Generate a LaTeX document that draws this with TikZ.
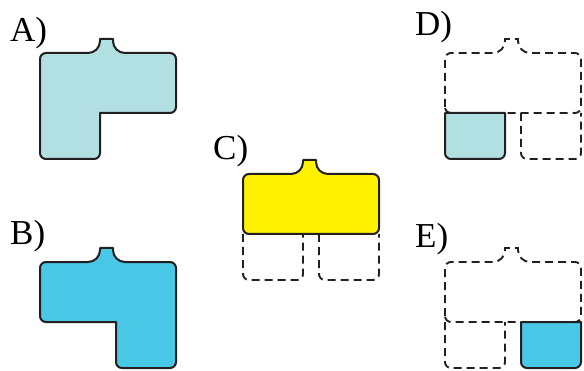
\documentclass[tikz,border=0pt]{standalone}
\usepackage{fontspec}
\setmainfont{Liberation Serif}
\usepackage{xcolor}
\usepackage{tikz}
\usetikzlibrary{positioning,calc}

\definecolor{ink}{HTML}{231F20}
\definecolor{paleblue}{HTML}{B2DFE1}
\definecolor{skyblue}{HTML}{48C7E7}
\definecolor{lemon}{HTML}{FFF100}

% top block outline with the knob, from (0,6) round to (136,54)
\newcommand{\knobtop}{(0,6) -- (0,54) arc[start angle=180,end angle=90,radius=6]
  -- (48,60) arc[start angle=-90,end angle=0,radius=12] -- (60,74) -- (73,74) -- (73,72)
  arc[start angle=180,end angle=270,radius=12] -- (130,60) arc[start angle=90,end angle=0,radius=6]}
% full top block
\newcommand{\blockpath}{\knobtop -- (136,6) arc[start angle=0,end angle=-90,radius=6]
  -- (6,0) arc[start angle=270,end angle=180,radius=6] -- cycle}
% open box hanging below the block, left edge at #1
\newcommand{\boxpath}[1]{(#1,0) -- (#1,-40) arc[start angle=180,end angle=270,radius=6]
  -- ($(#1,-46)+(54,0)$) arc[start angle=270,end angle=360,radius=6] -- ($(#1,0)+(60,0)$)}

\tikzset{
  piece/.style={draw=ink, line width=2pt, line join=round},
  ghost/.style={draw=ink, line width=1.9pt, dash pattern=on 8pt off 5pt},
  tag/.style={font=\fontsize{35}{40}\selectfont, anchor=base west, inner sep=0pt}
}

\begin{document}
\begin{tikzpicture}[x=1pt,y=1pt]
    \useasboundingbox (0,0) rectangle (584,370);

    % labels
    \node[tag] (labA) at (10,328) {A)};
    \node[tag] (labB) at (10,125) {B)};
    \node[tag] (labC) at (213,210) {C)};
    \node[tag] (labD) at (415,334) {D)};
    \node[tag] (labE) at (415,123) {E)};

    % A) block with the box on the left
    \begin{scope}[shift={(40,257)}]
        \draw[piece, fill=paleblue] \knobtop -- (136,6) arc[start angle=0,end angle=-90,radius=6]
            -- (60,0) -- (60,-40) arc[start angle=0,end angle=-90,radius=6]
            -- (6,-46) arc[start angle=270,end angle=180,radius=6] -- cycle;
    \end{scope}

    % B) block with the box on the right
    \begin{scope}[shift={(40,48)}]
        \draw[piece, fill=skyblue] \knobtop -- (136,-40) arc[start angle=0,end angle=-90,radius=6]
            -- (82,-46) arc[start angle=270,end angle=180,radius=6]
            -- (76,0) -- (6,0) arc[start angle=270,end angle=180,radius=6] -- cycle;
    \end{scope}

    % C) block alone, both boxes empty
    \begin{scope}[shift={(243,136)}]
        \draw[ghost] \boxpath{0};
        \draw[ghost] \boxpath{76};
        \draw[piece, fill=lemon] \blockpath;
    \end{scope}

    % D) only the left box
    \begin{scope}[shift={(445,257)}]
        \draw[ghost] \blockpath;
        \draw[ghost] \boxpath{76};
        \draw[piece, fill=paleblue] \boxpath{0} -- cycle;
    \end{scope}

    % E) only the right box
    \begin{scope}[shift={(445,48)}]
        \draw[ghost] \blockpath;
        \draw[ghost] \boxpath{0};
        \draw[piece, fill=skyblue] \boxpath{76} -- cycle;
    \end{scope}
\end{tikzpicture}
\end{document}
